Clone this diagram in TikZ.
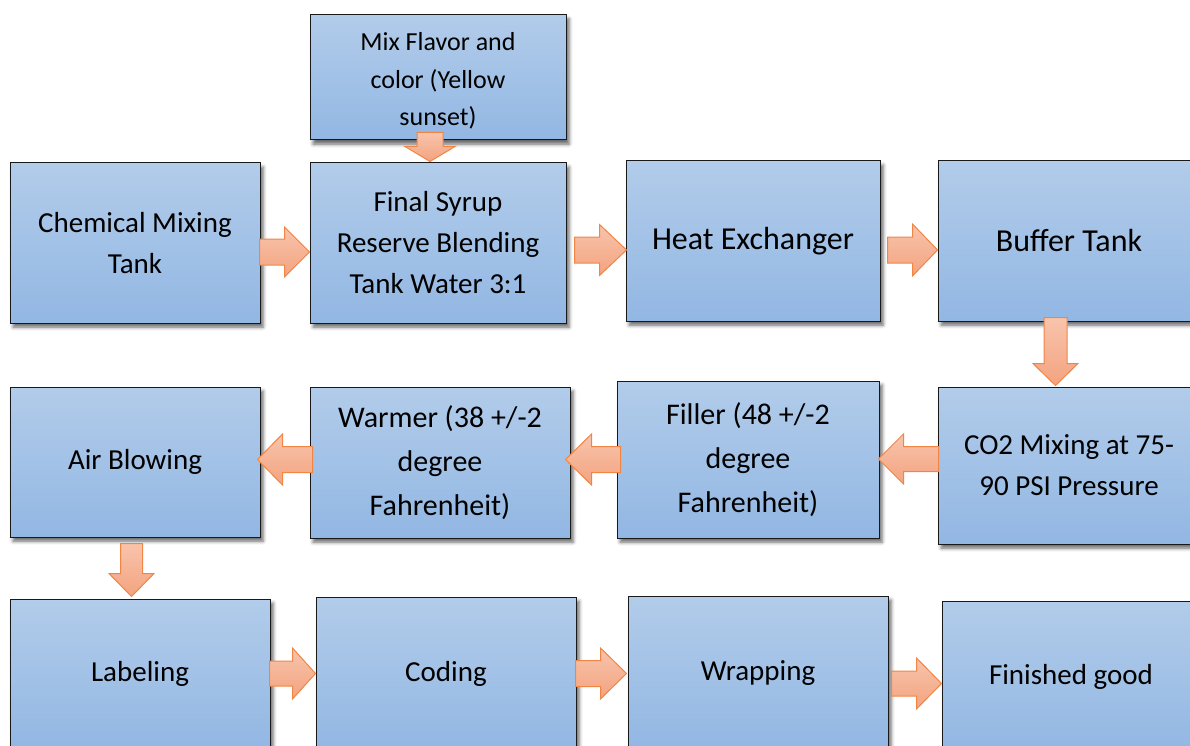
\documentclass[tikz,border=0pt]{standalone}
\usepackage{fontspec}
\setmainfont{Carlito}
\usetikzlibrary{shadows.blur,calc}

\definecolor{boxtop}{RGB}{178,204,234}
\definecolor{boxbot}{RGB}{146,183,227}
\definecolor{boxline}{RGB}{25,25,25}
\definecolor{arrtop}{RGB}{248,196,172}
\definecolor{arrbot}{RGB}{243,163,127}
\definecolor{arrline}{RGB}{240,133,68}

\begin{document}
\begin{tikzpicture}[x=1pt,y=-1pt,
  stagebox/.style={rectangle, draw=boxline, line width=1pt,
    top color=boxtop, bottom color=boxbot, align=center, inner sep=0pt,
    font=\fontsize{29}{41}\selectfont,
    blur shadow={shadow xshift=3pt, shadow yshift=-4pt,
      shadow blur radius=3.5pt, shadow opacity=60}},
  arrowfill/.style={draw=arrline, line width=1pt, line join=miter,
    top color=arrtop, bottom color=arrbot},
  % block arrows, tip at the pic origin; args: length/head length/half shaft/half head
  pics/rarrow/.style args={#1/#2/#3/#4}{code={
    \path[arrowfill] (0pt,0pt) -- (-#2pt,#4pt) -- (-#2pt,#3pt) -- (-#1pt,#3pt)
      -- (-#1pt,-#3pt) -- (-#2pt,-#3pt) -- (-#2pt,-#4pt) -- cycle;}},
  pics/larrow/.style args={#1/#2/#3/#4}{code={
    \path[arrowfill] (0pt,0pt) -- (#2pt,#4pt) -- (#2pt,#3pt) -- (#1pt,#3pt)
      -- (#1pt,-#3pt) -- (#2pt,-#3pt) -- (#2pt,-#4pt) -- cycle;}},
  pics/darrow/.style args={#1/#2/#3/#4}{code={
    \path[arrowfill] (0pt,0pt) -- (#4pt,#2pt) -- (#3pt,#2pt) -- (#3pt,#1pt)
      -- (-#3pt,#1pt) -- (-#3pt,#2pt) -- (-#4pt,#2pt) -- cycle;}},
]
\useasboundingbox (0,0) rectangle (1190,746);
\clip (0,0) rectangle (1190,746);

% process stages
\node[stagebox, minimum width=256pt, minimum height=125pt] (mix) at (438,77.5) {};
\node[align=center, inner sep=0pt, font=\fontsize{26}{37.5}\selectfont]
  (mixtext) at ([yshift=-3.5pt]mix.center) {Mix Flavor and\\color (Yellow\\sunset)};
\node[stagebox, minimum width=250pt, minimum height=160pt] (chem) at (135,243)
  {Chemical Mixing\\Tank};
\node[stagebox, minimum width=256pt, minimum height=160pt] (syrup) at (438,243)
  {Final Syrup\\Reserve Blending\\Tank Water 3:1};
\node[stagebox, minimum width=254pt, minimum height=160pt,
  font=\fontsize{32}{44}\selectfont] (heat) at (753,241) {Heat Exchanger};
\node[stagebox, minimum width=262pt, minimum height=160pt,
  font=\fontsize{32}{44}\selectfont] (buffer) at (1069,241) {Buffer Tank};

\node[stagebox, minimum width=250pt, minimum height=150pt] (air) at (135,462)
  {Air Blowing};
\node[stagebox, minimum width=260pt, minimum height=151pt,
  font=\fontsize{30}{44}\selectfont] (warmer) at (440,462.5)
  {Warmer (38 +/-2\\degree\\Fahrenheit)};
\node[stagebox, minimum width=262pt, minimum height=157pt,
  font=\fontsize{30}{44}\selectfont] (filler) at (748,459.5)
  {Filler (48 +/-2\\degree\\Fahrenheit)};
\node[stagebox, minimum width=262pt, minimum height=157pt] (co2) at (1069,465.5)
  {CO2 Mixing at 75-\\90 PSI Pressure};

\node[stagebox, minimum width=260pt, minimum height=150pt] (label) at (140,674)
  {Labeling};
\node[stagebox, minimum width=260pt, minimum height=153pt] (coding) at (446,673.5)
  {Coding};
\node[stagebox, minimum width=260pt, minimum height=154pt] (wrap) at (758,673)
  {Wrapping};
\node[stagebox, minimum width=258pt, minimum height=151pt] (finished) at (1071,676.5)
  {Finished good};

% block arrows between stages
\pic at ([xshift=-8pt,yshift=1pt]syrup.north) {darrow={29/15/13/25}};
\pic at ([yshift=-9pt]syrup.west) {rarrow={50/25/13/25}};
\pic at ([xshift=1pt,yshift=-9pt]heat.west) {rarrow={52/27/13/25.5}};
\pic at ([yshift=-9pt]buffer.west) {rarrow={50/25/13/26}};
\pic at ([xshift=-13.5pt,yshift=1pt]co2.north) {darrow={68/22/11.5/22.5}};
\pic at ([xshift=-1pt,yshift=0.5pt]filler.east) {larrow={60/25/12.5/25}};
\pic at ([xshift=-5pt,yshift=3pt]warmer.east) {larrow={55/26/13/25.5}};
\pic at ([xshift=-3pt,yshift=2.5pt]air.east) {larrow={55/25/13/25.5}};
\pic at ([xshift=-8.5pt,yshift=2pt]label.north) {darrow={53/23/11/22.5}};
\pic at (coding.west) {rarrow={46/23/12.5/25.5}};
\pic at ([xshift=-1pt,yshift=-0.5pt]wrap.west) {rarrow={51/26/13/25.5}};
\pic at ([yshift=-7pt]finished.west) {rarrow={50/25/12.5/25.5}};
\end{tikzpicture}
\end{document}
